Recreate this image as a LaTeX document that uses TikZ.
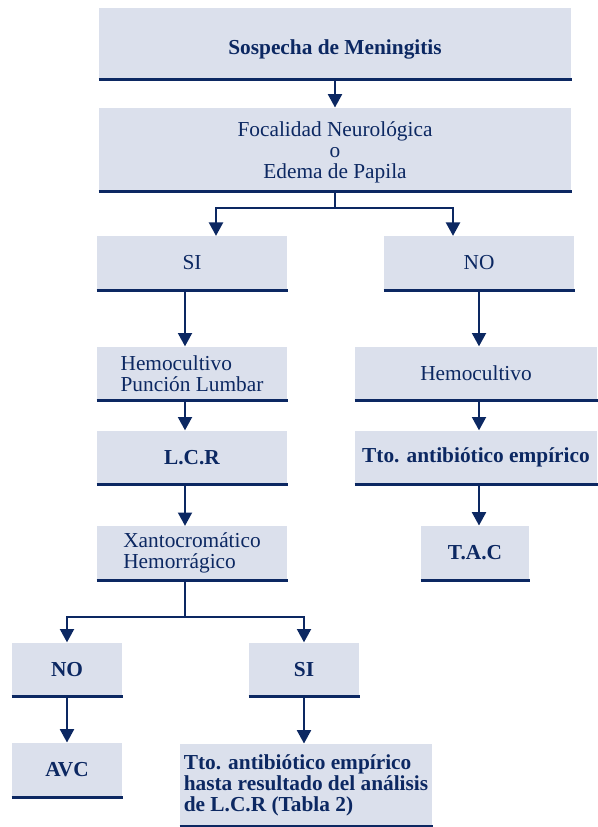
\documentclass[tikz,border=0pt]{standalone}
\usepackage{fontspec}
\setmainfont{Liberation Serif}
\usetikzlibrary{arrows.meta}

\definecolor{navy}{RGB}{12,40,98}
\definecolor{boxfill}{RGB}{219,224,236}

\tikzset{
  every picture/.style={line width=0.75pt},
  flowbox/.style={fill=boxfill, text=navy, inner sep=0pt, minimum height=40pt,
    font=\fontsize{16}{15.75}\selectfont},
  boldbox/.style={flowbox, font=\fontsize{16}{15.75}\selectfont\bfseries},
  baseline rule/.style={draw=navy, line width=2.25pt},
  wire/.style={draw=navy, line width=1.5pt},
  arr/.style={wire, -{Triangle[width=10.5pt,length=10pt]}}
}

\begin{document}
\begin{tikzpicture}[x=0.75pt,y=0.75pt,yscale=-1,xscale=1]
\useasboundingbox (0,0) rectangle (597,827);

% top of the chart
\node [boldbox, minimum width=354pt, minimum height=53.25pt] (susp) at (335,43.5) {\raisebox{-4.5pt}[\height][\depth]{Sospecha de Meningitis}};
\node [flowbox, minimum width=354pt, minimum height=62.25pt] (foc) at (335,149.5) {\raisebox{-3pt}[\height][\depth]{\begin{tabular}{@{}c@{}}Focalidad Neurológica\\o\\Edema de Papila\end{tabular}}};

% first branch
\node [flowbox, minimum width=142.5pt] (si1) at (192,263) {SI};
\node [flowbox, minimum width=142.5pt] (no1) at (479,263) {NO};

% left column
\node [flowbox, minimum width=142.5pt, align=left] (hpl) at (192,373.5) {Hemocultivo\\Punción Lumbar};
\node [boldbox, minimum width=142.5pt] (lcr) at (192,457.5) {L.C.R};
\node [flowbox, minimum width=142.5pt, align=left] (xan) at (192,553) {Xantocromático\\Hemorrágico};

% right column
\node [flowbox, minimum width=181.5pt] (hem) at (476,373.5) {Hemocultivo};
\node [boldbox, minimum width=181.5pt] (tto) at (476,457.5) {Tto. antibiótico empírico};
\node [boldbox, minimum width=81pt, minimum height=40.5pt] (tac) at (475,553) {T.A.C};

% second branch
\node [boldbox, minimum width=82.5pt] (no2) at (67,669.5) {NO};
\node [boldbox, minimum width=82.5pt] (si2) at (304,669.5) {SI};
\node [boldbox, minimum width=82.5pt, minimum height=40.5pt] (avc) at (67,770) {AVC};
\node [boldbox, minimum width=189pt, minimum height=61.5pt, align=left] (ttf) at (306,785) {Tto. antibiótico empírico\\hasta resultado del análisis\\de L.C.R (Tabla 2)};

% dark rule under every box
\foreach \n in {susp,foc,si1,no1,hpl,lcr,xan,hem,tto,tac,no2,si2,avc,ttf}
  \draw [baseline rule] (\n.south west) -- (\n.south east);

% columns and forks
\coordinate (colL) at (185,0);
\coordinate (colR) at (479,0);
\coordinate (fk1) at (335,208);
\coordinate (fk2) at (185,617);

\draw [arr] (susp.south) -- (foc.north);
\draw [wire] (foc.south) -- (fk1);
\draw [arr] (fk1) -| ([xshift=18pt]si1.north);
\draw [arr] (fk1) -| ([xshift=-19.5pt]no1.north);

\draw [arr] (si1.south -| colL) -- (hpl.north -| colL);
\draw [arr] (hpl.south -| colL) -- (lcr.north -| colL);
\draw [arr] (lcr.south -| colL) -- (xan.north -| colL);

\draw [arr] (no1.south -| colR) -- (hem.north -| colR);
\draw [arr] (hem.south -| colR) -- (tto.north -| colR);
\draw [arr] (tto.south -| colR) -- (tac.north -| colR);

\draw [wire] (xan.south -| colL) -- (fk2);
\draw [arr] (fk2) -| (no2.north);
\draw [arr] (fk2) -| (si2.north);
\draw [arr] (no2.south) -- (avc.north);
\draw [arr] (si2.south) -- (ttf.north -| si2.south);

\end{tikzpicture}
\end{document}
